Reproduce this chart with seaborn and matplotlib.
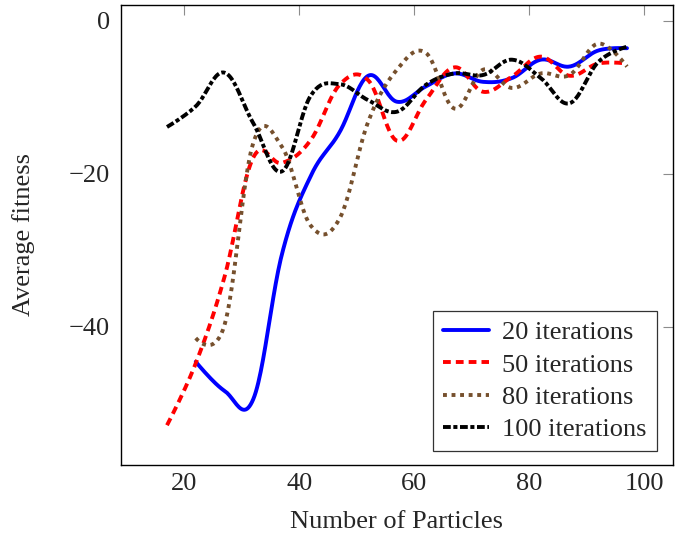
import numpy as np
import pandas as pd
import matplotlib
matplotlib.use("Agg")
import matplotlib.pyplot as plt
import seaborn as sns

# values
particles = [17, 22, 27, 32, 37, 42, 47, 52, 57, 62, 67, 72, 77, 82, 87, 92, 97]
it20 = [None, -44.6, -48.4, -49.5, -30.5, -20.3, -14.6, -7.2, -10.6, -8.6,
        -6.9, -8.0, -7.5, -5.1, -6.0, -3.9, -3.6]
it50 = [-52.9, -44.8, -33.5, -17.9, -18.6, -15.6, -8.4, -7.8, -15.7, -10.4,
        -6.1, -9.3, -7.3, -4.7, -7.2, -5.6, -5.6]
it80 = [None, -41.5, -39.8, -16.0, -16.5, -26.8, -25.9, -13.2, -6.4, -4.2,
        -11.5, -6.4, -8.8, -6.9, -7.1, -3.0, -6.0]
it100 = [-13.9, -11.2, -6.8, -13.4, -19.7, -9.8, -8.3, -10.4, -11.9, -8.4,
         -6.9, -7.1, -5.1, -7.5, -10.8, -5.4, -3.4]

labels = ["20 iterations", "50 iterations", "80 iterations", "100 iterations"]
series = [it20, it50, it80, it100]


def smooth(xs, ys, k=0.55 / 3, n=25):
    # pgfplots-like smooth curve through the points
    pts = np.column_stack([xs, ys]).astype(float)
    out = [pts[0]]
    t = np.linspace(0, 1, n)[1:, None]
    for i in range(len(pts) - 1):
        p0, p3 = pts[i], pts[i + 1]
        c1 = p0 if i == 0 else p0 + k * (p3 - pts[i - 1])
        c2 = p3 if i + 2 >= len(pts) else p3 - k * (pts[i + 2] - p0)
        seg = (1 - t) ** 3 * p0 + 3 * (1 - t) ** 2 * t * c1 + 3 * (1 - t) * t ** 2 * c2 + t ** 3 * p3
        out.extend(seg)
    return np.array(out)


frames = []
for lab, vals in zip(labels, series):
    xs = [x for x, v in zip(particles, vals) if v is not None]
    ys = [v for v in vals if v is not None]
    c = smooth(xs, ys)
    frames.append(pd.DataFrame({"x": c[:, 0], "y": c[:, 1], "series": lab}))
df = pd.concat(frames, ignore_index=True)

sns.set_style("white")
plt.rcParams["font.family"] = ["Liberation Serif", "DejaVu Serif"]

fig = plt.figure(figsize=(6.83, 5.37), dpi=100)
ax = fig.add_axes([121 / 683, 1 - 465 / 537, 552 / 683, 460 / 537])

palette = {labels[0]: "#0000ff", labels[1]: "#ff0000", labels[2]: "#76502d", labels[3]: "#000000"}
dashes = {labels[0]: "", labels[1]: (2, 1.3), labels[2]: (1, 1.2), labels[3]: (2, 0.66, 1.05, 0.66)}

sns.lineplot(data=df, x="x", y="y", hue="series", style="series", palette=palette,
             dashes=dashes, sort=False, estimator=None, lw=2.8, ax=ax)

ax.set_xlim(9, 105)
ax.set_ylim(-58.1, 2.05)
ax.set_xticks([20, 40, 60, 80, 100])
ax.set_yticks([-40, -20, 0])
ax.tick_params(direction="in", length=7, width=0.8, color="0.55", top=True, right=True,
               labelsize=19)
ax.tick_params(axis="x", pad=6)
ax.tick_params(axis="y", pad=8)
for sp in ax.spines.values():
    sp.set_visible(True)
    sp.set_color("black")
    sp.set_linewidth(1.0)

ax.set_xlabel("Number of Particles", fontsize=19)
ax.set_ylabel("Average fitness", fontsize=19)
ax.xaxis.set_label_coords(0.5, -0.10)
ax.yaxis.set_label_coords(-0.155, 0.5)

handles, labs = ax.get_legend_handles_labels()
leg = ax.legend(handles, labs, loc="lower right", bbox_to_anchor=(0.9705, 0.0304),
                borderaxespad=0, fontsize=19, frameon=True, fancybox=False,
                edgecolor="black", handlelength=1.75, handletextpad=0.5,
                labelspacing=0.33, borderpad=0.38)
leg.get_frame().set_linewidth(0.9)

plt.savefig("out.png", dpi=100)
